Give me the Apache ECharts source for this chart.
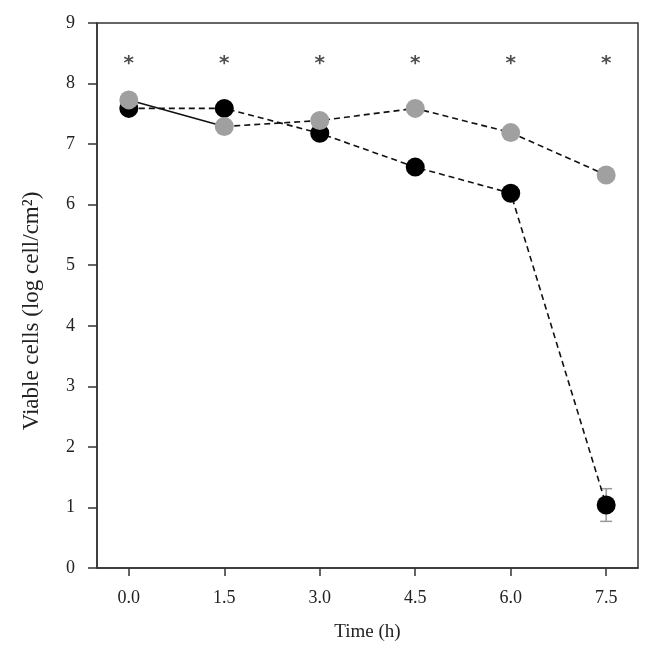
<!DOCTYPE html>
<html>
<head>
<meta charset="utf-8">
<script src="https://cdn.jsdelivr.net/npm/echarts@6/dist/echarts.min.js"></script>
<style>html,body{margin:0;padding:0;background:#fff}#c{width:653px;height:654px}</style>
</head>
<body>
<div id="c"></div>
<script>
var times = [0, 1.5, 3.0, 4.5, 6.0, 7.5];
var xTickLabels = ['0.0', '1.5', '3.0', '4.5', '6.0', '7.5'];
var blackVals = [7.59, 7.59, 7.18, 6.62, 6.19, 1.04];
var greyVals = [7.73, 7.29, 7.39, 7.59, 7.19, 6.49];
var blackErr = [0, 0, 0, 0, 0, 0.27];
var greyErr = [0, 0, 0, 0, 0, 0.1];
var sigTimes = [0, 1.5, 3.0, 4.5, 6.0, 7.5];
var sigY = [8.33, 8.33, 8.33, 8.33, 8.33, 8.33];

var FONT = 'Liberation Serif';
function pts(xs, ys) { return xs.map(function (x, i) { return [x, ys[i]]; }); }
function errData(vals, errs) {
  var out = [];
  times.forEach(function (t, i) { if (errs[i] > 0) out.push([t, vals[i] - errs[i], vals[i] + errs[i]]); });
  return out;
}
function errSeries(vals, errs) {
  return {
    type: 'custom', z: 2,
    data: errData(vals, errs),
    renderItem: function (params, api) {
      var lo = api.coord([api.value(0), api.value(1)]);
      var hi = api.coord([api.value(0), api.value(2)]);
      var w = 6;
      var st = { stroke: '#9a9a9a', lineWidth: 1.5 };
      return { type: 'group', children: [
        { type: 'line', shape: { x1: lo[0], y1: lo[1], x2: hi[0], y2: hi[1] }, style: st },
        { type: 'line', shape: { x1: lo[0] - w, y1: lo[1], x2: lo[0] + w, y2: lo[1] }, style: st },
        { type: 'line', shape: { x1: hi[0] - w, y1: hi[1], x2: hi[0] + w, y2: hi[1] }, style: st }
      ]};
    }
  };
}
var dashStyle = { color: '#111', width: 1.6, type: [6, 4] };

var chart = echarts.init(document.getElementById('c'));
chart.setOption({
  animation: false,
  backgroundColor: '#fff',
  grid: { left: 97, right: 15, top: 23, bottom: 86, show: true, borderColor: '#333', borderWidth: 1.5 },
  xAxis: {
    type: 'value', min: -0.5, max: 8.0, interval: 1.5,
    axisLine: { show: true, onZero: false, lineStyle: { color: '#333', width: 1.5 } },
    axisTick: { show: true, inside: false, length: 8, lineStyle: { color: '#333', width: 1.5 },
      customValues: times },
    axisLabel: { fontFamily: FONT, fontSize: 18, color: '#222', margin: 21,
      customValues: times,
      formatter: function (v) { var i = times.indexOf(v); return i >= 0 ? xTickLabels[i] : ''; } },
    splitLine: { show: false },
    name: 'Time (h)', nameLocation: 'middle', nameGap: 55,
    nameTextStyle: { fontFamily: FONT, fontSize: 19, color: '#222' }
  },
  yAxis: {
    type: 'value', min: 0, max: 9, interval: 1,
    axisLine: { show: true, onZero: false, lineStyle: { color: '#333', width: 1.5 } },
    axisTick: { show: true, inside: false, length: 9, lineStyle: { color: '#333', width: 1.5 } },
    axisLabel: { fontFamily: FONT, fontSize: 18, color: '#222', margin: 22 },
    splitLine: { show: false },
    name: 'Viable cells (log cell/cm²)', nameLocation: 'middle', nameGap: 54,
    nameTextStyle: { fontFamily: FONT, fontSize: 23, color: '#222', padding: [0, 31, 0, 0] }
  },
  series: [
    { type: 'line', z: 3, symbol: 'none', data: pts(times, blackVals), lineStyle: dashStyle },
    { type: 'line', z: 3, symbol: 'none', data: pts(times.slice(0, 2), greyVals.slice(0, 2)),
      lineStyle: { color: '#111', width: 1.6, type: 'solid' } },
    { type: 'line', z: 3, symbol: 'none', data: pts(times.slice(1), greyVals.slice(1)), lineStyle: dashStyle },
    errSeries(blackVals, blackErr),
    errSeries(greyVals, greyErr),
    { type: 'scatter', z: 5, symbol: 'circle', symbolSize: 19, data: pts(times, blackVals),
      itemStyle: { color: '#000', opacity: 1 } },
    { type: 'scatter', z: 6, symbol: 'circle', symbolSize: 19, data: pts(times, greyVals),
      itemStyle: { color: '#a0a0a0', opacity: 1 } },
    { type: 'scatter', z: 6, symbolSize: 0, data: pts(sigTimes, sigY),
      label: { show: true, position: 'inside', formatter: '*', fontFamily: 'DejaVu Sans', fontWeight: 'bold', fontSize: 20, color: '#222' } }
  ]
});
</script>
</body>
</html>
